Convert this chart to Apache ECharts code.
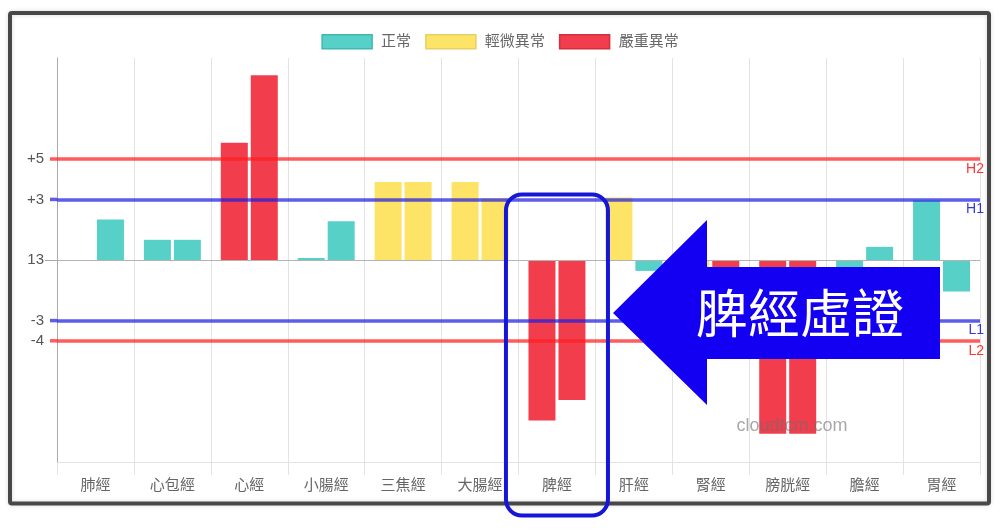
<!DOCTYPE html>
<html><head><meta charset="utf-8">
<script src="https://cdn.jsdelivr.net/npm/echarts@6/dist/echarts.min.js"></script>
<style>html,body{margin:0;padding:0;background:#fff}#c{width:1000px;height:530px}</style>
</head><body><div id="c"></div>
<script>
const categories = ['肺經','心包經','心經','小腸經','三焦經','大腸經','脾經','肝經','腎經','膀胱經','膽經','胃經'];
const leftValues  = [0, 1.0, 5.8, 0.1, 3.86, 3.86, -7.95, 3.1, -3.5, -8.6, -0.4, 2.95];
const rightValues = [2.0, 1.0, 9.14, 1.92, 3.86, 3.05, -6.93, -0.54, -4.9, -8.6, 0.65, -1.56];
const leftLevels  = [0, 0, 2, 0, 1, 1, 2, 1, 1, 2, 0, 0];
const rightLevels = [0, 0, 2, 0, 1, 1, 2, 0, 2, 2, 0, 0];
const levelNames = ['正常','輕微異常','嚴重異常'];
const levelColors = ['#57d0c8','#fde466','#f13d4c'];
const levelBorders = ['#3fb8b0','#e6cf66','#d52f3f'];
const yTickValues = [5, 3, 0, -3, -4];
const yTickLabels = ['+5', '+3', '13', '-3', '-4'];
const thresholdNames = ['H2', 'H1', 'L1', 'L2'];
const thresholdValues = [5, 3, -3, -4];
const thresholdColors = ['rgba(255,30,30,0.72)', 'rgba(30,30,225,0.72)', 'rgba(30,30,225,0.72)', 'rgba(255,30,30,0.72)'];
const annotationText = '脾經虛證';
const watermark = 'cloudtcm.com';

const FONT = '"Liberation Sans", "Noto Sans CJK TC", sans-serif';
const chart = echarts.init(document.getElementById('c'), null, {renderer: 'canvas'});

function sideSeries(side, values, levels) {
  return levelNames.map((nm, li) => ({
    name: nm, type: 'bar', stack: side, barWidth: 27, barGap: '11%',
    data: values.map((v, i) => levels[i] === li ? v : '-'),
    itemStyle: {color: levelColors[li]},
    emphasis: {disabled: true}, z: 2
  }));
}

const series = [
  ...sideSeries('L', leftValues, leftLevels),
  ...sideSeries('R', rightValues, rightLevels),
  {
    type: 'line', data: [], silent: true, z: 5,
    markLine: {
      silent: true, symbol: 'none', animation: false,
      data: [
        {yAxis: 0, lineStyle: {color: '#b3b3b3', width: 1, type: 'solid'}, label: {show: false}},
        ...thresholdValues.map((v, i) => ({
          yAxis: v,
          lineStyle: {color: thresholdColors[i], width: 3.5, type: 'solid'},
          label: {show: true, formatter: thresholdNames[i], position: 'insideEndBottom',
                  color: thresholdColors[i].replace('0.72', '0.9'), fontSize: 14, fontFamily: FONT, distance: [-4, 3]}
        }))
      ]
    }
  }
];

chart.setOption({
  animation: false,
  textStyle: {fontFamily: FONT},
  legend: {
    top: 29, left: 'center', itemWidth: 50, itemHeight: 14, itemGap: 14,
    icon: 'rect',
    textStyle: {fontSize: 15, color: '#666', fontFamily: FONT, padding: [0, 0, 0, 4]},
    data: levelNames.map((n, i) => ({name: n, itemStyle: {borderColor: levelBorders[i], borderWidth: 1.5}}))
  },
  grid: {left: 57, right: 20, top: 58, bottom: 68, containLabel: false},
  xAxis: {
    type: 'category', data: categories, boundaryGap: true,
    axisLine: {onZero: false, lineStyle: {color: '#e3e3e3'}},
    axisTick: {show: true, length: 13, lineStyle: {color: '#e3e3e3'}},
    splitLine: {show: true, lineStyle: {color: '#e3e3e3'}},
    axisLabel: {fontSize: 15, color: '#666', margin: 16, fontFamily: FONT}
  },
  yAxis: {
    type: 'value', min: -10, max: 10, interval: 1,
    axisLine: {show: true, lineStyle: {color: '#aaa'}},
    splitLine: {show: false},
    axisTick: {show: true, customValues: [0], length: 12, lineStyle: {color: '#aaa'}},
    axisLabel: {customValues: yTickValues, fontSize: 15, color: '#555', margin: 13, fontFamily: FONT,
                formatter: v => yTickLabels[yTickValues.indexOf(v)]}
  },
  series: series
});

// annotation graphics
const stubs = thresholdValues.map((v, i) => {
  const y = chart.convertToPixel({yAxisIndex: 0}, v);
  return {type: 'line', shape: {x1: 50, y1: y, x2: 57, y2: y}, style: {stroke: thresholdColors[i], lineWidth: 3.5}, z: 10, silent: true};
});
const ci = categories.indexOf('脾經');
const cx = chart.convertToPixel({xAxisIndex: 0}, ci);
chart.setOption({
  graphic: [
    ...stubs,
    {type: 'rect', shape: {x: 10, y: 13, width: 979, height: 490.5, r: 2},
     style: {fill: 'none', stroke: '#484848', lineWidth: 4, shadowBlur: 4, shadowColor: 'rgba(0,0,0,0.15)'}, z: 20, silent: true},
    {type: 'rect', shape: {x: cx - 51, y: 194.5, width: 102, height: 321, r: 16},
     style: {fill: 'none', stroke: '#1616d6', lineWidth: 4}, z: 30, silent: true},
    {type: 'polygon', shape: {points: [[613, 313], [707, 220], [707, 267], [940, 267], [940, 359], [707, 359], [707, 405]]},
     style: {fill: '#1300f2'}, z: 30, silent: true},
    {type: 'text', x: 800, y: 313, style: {text: annotationText, fill: '#fff', font: '52px "Noto Sans CJK TC"', align: 'center', verticalAlign: 'middle'}, z: 31, silent: true},
    {type: 'text', x: 792, y: 426, style: {text: watermark, fill: 'rgba(110,110,110,0.6)', font: '18px "Liberation Sans", sans-serif', align: 'center', verticalAlign: 'middle'}, z: 31, silent: true}
  ]
});
</script>
</body></html>
